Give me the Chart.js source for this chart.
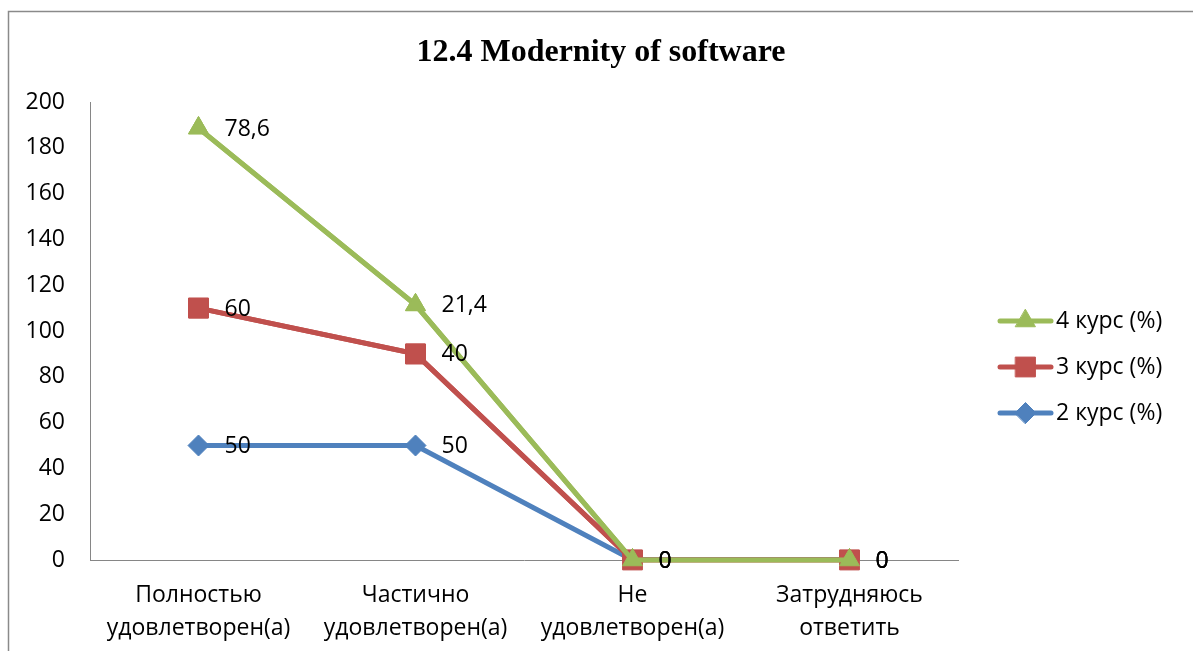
<!DOCTYPE html>
<html><head><meta charset="utf-8">
<script src="https://cdn.jsdelivr.net/npm/chart.js@4.4.0/dist/chart.umd.min.js"></script>
<style>html,body{margin:0;padding:0;background:#fff;overflow:hidden}#wrap{width:1193px;height:651px;position:relative}</style>
</head><body><div id="wrap"><canvas id="c" width="1193" height="651"></canvas></div>
<script>
const categories = [["Полностью","удовлетворен(а)"],["Частично","удовлетворен(а)"],["Не","удовлетворен(а)"],["Затрудняюсь","ответить"]];
const course2 = [50, 50, 0, 0];
const course3 = [60, 40, 0, 0];
const course4 = [78.6, 21.4, 0, 0];
const seriesNames = ["2 курс (%)", "3 курс (%)", "4 курс (%)"];
const yMin = 0, yMax = 200, yStep = 20;
const titleText = "12.4 Modernity of software";

const FONT = "'Open Sans', 'DejaVu Sans', sans-serif";
const colors = ["#4F81BD", "#C0504D", "#9BBB59"];
const styles = ["rectRot", "rect", "triangle"];
const radii = [10.5, 14, 11.5];

const framePlugin = {
  id: 'frame',
  beforeDraw(chart) {
    const ctx = chart.ctx;
    ctx.save();
    ctx.strokeStyle = '#8a8a8a';
    ctx.lineWidth = 1.5;
    ctx.beginPath();
    ctx.moveTo(8.5, 651); ctx.lineTo(8.5, 11.5); ctx.lineTo(1193, 11.5);
    ctx.stroke();
    ctx.restore();
  },
  afterDraw(chart) {
    const ctx = chart.ctx;
    ctx.save();
    ctx.fillStyle = '#000';
    ctx.font = "bold 32px 'Liberation Serif', 'Times New Roman', serif";
    ctx.textAlign = 'center';
    ctx.textBaseline = 'middle';
    ctx.fillText(titleText, 601, 53);
    // legend
    const items = chart.data.datasets.map((d, i) => i).reverse();
    const ys = [321, 367, 413];
    items.forEach((di, k) => {
      const ds = chart.data.datasets[di];
      const y = ys[k];
      ctx.strokeStyle = ds.borderColor;
      ctx.fillStyle = ds.borderColor;
      ctx.lineWidth = 5;
      ctx.lineCap = 'round';
      ctx.beginPath(); ctx.moveTo(1000, y); ctx.lineTo(1051, y); ctx.stroke();
      ctx.lineWidth = 1;
      Chart.helpers.drawPoint(ctx, {pointStyle: ds.pointStyle, radius: ds.pointRadius, rotation: 0, borderWidth: 1}, 1025.5, y);
      ctx.fillStyle = '#000';
      ctx.font = "23px " + FONT;
      ctx.textAlign = 'left';
      ctx.textBaseline = 'middle';
      ctx.fillText(ds.label, 1056, y);
    });
    ctx.restore();
  }
};

const reorderPlugin = {
  id: 'reorder',
  afterDatasetsDraw(chart) {
    // Draw red then green over blue so green is on top (as in original)
    [1, 2].forEach(i => chart.getDatasetMeta(i).controller.draw());
    const ctx = chart.ctx;
    ctx.save();
    ctx.fillStyle = '#000';
    ctx.font = "23px " + FONT;
    ctx.textAlign = 'left';
    ctx.textBaseline = 'middle';
    chart.data.datasets.forEach((ds, i) => {
      const meta = chart.getDatasetMeta(i);
      meta.data.forEach((pt, j) => {
        const v = ds.data[j];
        ctx.fillText(String(v).replace('.', ','), pt.x + 26, pt.y + 1);
      });
    });
    ctx.restore();
  }
};

const seriesData = [course2, course3, course4];
const datasets = seriesData.map((arr, i) => ({
  label: seriesNames[i],
  data: arr,
  borderColor: colors[i],
  backgroundColor: colors[i],
  pointBackgroundColor: colors[i],
  pointBorderColor: colors[i],
  pointStyle: styles[i],
  pointRadius: radii[i],
  pointHoverRadius: radii[i],
  pointBorderWidth: 1,
  borderWidth: 5,
  fill: false,
  tension: 0
}));

new Chart(document.getElementById('c'), {
  type: 'line',
  data: { labels: categories, datasets },
  plugins: [framePlugin, reorderPlugin],
  options: {
    responsive: false,
    animation: false,
    events: [],
    layout: { padding: { left: 0, top: 102, right: 235, bottom: 0 } },
    plugins: { legend: { display: false }, title: { display: false }, tooltip: { enabled: false } },
    scales: {
      x: {
        offset: true,
        grid: { display: false, drawTicks: false },
        border: { display: true, color: '#868686', width: 1 },
        ticks: { color: '#000', font: { family: FONT, size: 23, lineHeight: 1.43 }, padding: 19, maxRotation: 0, autoSkip: false },
        afterFit(s) { s.height = 91; }
      },
      y: {
        stacked: true,
        min: yMin, max: yMax,
        grid: { display: false, drawTicks: false },
        border: { display: true, color: '#868686', width: 1 },
        ticks: { stepSize: yStep, color: '#000', font: { family: FONT, size: 23 }, padding: 25 },
        afterFit(s) { s.width = 90; }
      }
    }
  }
});
</script></body></html>
